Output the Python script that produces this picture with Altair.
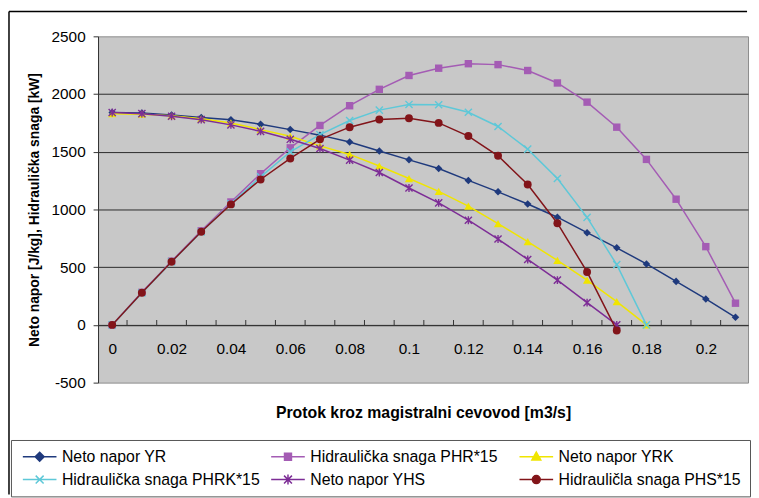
import altair as alt
import pandas as pd

FONT = "Liberation Sans"

# ---- data ----
X = [0.0, 0.01, 0.02, 0.03, 0.04, 0.05, 0.06, 0.07, 0.08, 0.09, 0.10,
     0.11, 0.12, 0.13, 0.14, 0.15, 0.16, 0.17, 0.18, 0.19, 0.20, 0.21]
YR = [1840, 1835, 1818, 1796, 1778, 1738, 1692, 1644, 1584, 1506, 1430,
      1355, 1252, 1153, 1047, 933, 799, 668, 528, 377, 225, 66]
PHR = [0, 282, 552, 815, 1065, 1310, 1534, 1728, 1899, 2041, 2161,
       2224, 2263, 2255, 2204, 2096, 1930, 1713, 1434, 1089, 678, 188]
YRK = [1830, 1825, 1812, 1786, 1750, 1692, 1634, 1551, 1477, 1377, 1268,
       1157, 1029, 878, 721, 559, 388, 202, 0]
PHRK = [0, 276, 546, 805, 1050, 1283, 1500, 1648, 1771, 1861, 1910,
        1907, 1842, 1719, 1523, 1268, 932, 522, 0]
YHS = [1840, 1830, 1808, 1778, 1733, 1677, 1608, 1528, 1428, 1320, 1186,
       1057, 907, 744, 567, 388, 193, 0]
PHS = [0, 279, 547, 807, 1044, 1260, 1442, 1608, 1713, 1779, 1790,
       1750, 1636, 1465, 1217, 881, 459, -49]

SERIES = ["Neto napor YR", "Hidraulička snaga PHR*15", "Neto napor YRK",
          "Hidraulička snaga PHRK*15", "Neto napor YHS", "Hidrauličla snaga PHS*15"]
VALUES = [YR, PHR, YRK, PHRK, YHS, PHS]
COLORS = ["#1F3A7D", "#A45CB4", "#F0E500", "#5EC8D8", "#7D2D96", "#821419"]

X_LABELS = [0, 0.02, 0.04, 0.06, 0.08, 0.1, 0.12, 0.14, 0.16, 0.18, 0.2]
X_TICKS = [0.005, 0.015, 0.025, 0.035, 0.045, 0.055, 0.065, 0.075, 0.085, 0.095, 0.105,
           0.115, 0.125, 0.135, 0.145, 0.155, 0.165, 0.175, 0.185, 0.195, 0.205]
Y_TICKS = [-500, 0, 500, 1000, 1500, 2000, 2500]

X_PATH = "M-1,-1L1,1M-1,1L1,-1"
AST_PATH = "M-1,-1L1,1M-1,1L1,-1M0,-1.1L0,1.1"
MARKERS = [
    dict(shape="diamond", filled=True, size=58),
    dict(shape="square", filled=True, size=56),
    dict(shape="triangle-up", filled=True, size=70),
    dict(shape=X_PATH, filled=False, size=52),
    dict(shape=AST_PATH, filled=False, size=52),
    dict(shape="circle", filled=True, size=64),
]

LINE = "M-3.4,0L3.4,0"
LEG_PATHS = [
    LINE + "M0,-0.9L0.9,0L0,0.9L-0.9,0Z",
    LINE + "M-0.7,-0.7L0.7,-0.7L0.7,0.7L-0.7,0.7Z",
    LINE + "M0,-0.95L0.9,0.65L-0.9,0.65Z",
    LINE + "M-0.8,-0.8L0.8,0.8M-0.8,0.8L0.8,-0.8",
    LINE + "M-0.8,-0.8L0.8,0.8M-0.8,0.8L0.8,-0.8M0,-1L0,1",
    LINE + "M0.8,0A0.8,0.8,0,1,1,-0.8,0A0.8,0.8,0,1,1,0.8,0Z",
]

W, H = 657, 350

xs = alt.Scale(domain=[-0.00477, 0.21423], nice=False, zero=False)
ys = alt.Scale(domain=[-500, 2500], nice=False, zero=False)

x_axis = alt.Axis(
    values=X_LABELS, labelExpr="'' + datum.value", ticks=False, tickSize=0,
    grid=False, domain=True, domainColor="#333333", domainWidth=1,
    labelFont=FONT, labelFontSize=15.5, labelColor="black", labelPadding=17,
    labelFlush=False, labelOverlap=False, offset=-58.33,
    title="Protok kroz magistralni cevovod [m3/s]", titleFont=FONT,
    titleFontSize=16, titleFontWeight="bold", titleColor="black",
    titleY=93.5, titleBaseline="alphabetic",
)
y_axis = alt.Axis(
    values=Y_TICKS, labelExpr="'' + datum.value",
    labelFont=FONT, labelFontSize=15.5, labelColor="black", labelPadding=8,
    tickSize=5, tickColor="#333333", domainColor="#333333",
    grid=True, gridColor="#2a2a2a", gridWidth=1,
    gridOpacity={"condition": {"test": "datum.value == -500 || datum.value == 2500", "value": 0}, "value": 1},
    title="Neto napor [J/kg], Hidraulička snaga [kW]", titleFont=FONT,
    titleFontSize=14, titleFontWeight="bold", titleColor="black",
    titleAngle=270, titleX=-57, titleY=H / 2, titleBaseline="bottom", titleAlign="center",
)

def enc(chart):
    return chart.encode(
        x=alt.X("x:Q", scale=xs, axis=x_axis),
        y=alt.Y("y:Q", scale=ys, axis=y_axis),
    )

layers = []
# small inside ticks on the category axis (between categories)
tick_df = pd.DataFrame({"x": X_TICKS, "y": [0] * len(X_TICKS)})
layers.append(enc(alt.Chart(tick_df).mark_tick(orient="vertical", size=5, thickness=1,
                                                color="#333333", yOffset=-2.5, opacity=1)))

for name, vals, col, mk in zip(SERIES, VALUES, COLORS, MARKERS):
    df = pd.DataFrame({"x": X[:len(vals)], "y": vals})
    base = alt.Chart(df)
    layers.append(enc(base.mark_line(color=col, strokeWidth=1.5)))
    layers.append(enc(base.mark_point(shape=mk["shape"], filled=mk["filled"], size=mk["size"],
                                      color=col, opacity=1, strokeWidth=1.4)))

leg = alt.Legend(
    title=None, orient="none", legendX=-88, legendY=408, columns=3, direction="horizontal",
    gridAlign="all", columnPadding=8, rowPadding=7, padding=9, strokeColor="#555555",
    labelFont=FONT, labelFontSize=16, labelColor="black", labelLimit=400,
    symbolSize=100, symbolStrokeWidth=1.5, symbolOffset=12, labelOffset=14.5,
)
leg_df = pd.DataFrame({"series": SERIES, "x": [0.0] * 6, "y": [0] * 6})
legend_layer = enc(alt.Chart(leg_df).mark_point(filled=True, size=100, strokeWidth=1.5, opacity=1)).encode(
    fill=alt.Fill("series:N", scale=alt.Scale(domain=SERIES, range=COLORS), legend=leg),
    stroke=alt.Stroke("series:N", scale=alt.Scale(domain=SERIES, range=COLORS), legend=leg),
    shape=alt.Shape("series:N", scale=alt.Scale(domain=SERIES, range=LEG_PATHS), legend=leg),
).transform_filter("false")
layers.append(legend_layer)

# outer chart frame (decorative)
one = pd.DataFrame({"a": [0]})
layers.append(alt.Chart(one).mark_rule(color="black", strokeWidth=1.5).encode(
    x=alt.value(-90), y=alt.value(-25), y2=alt.value(463)))
layers.append(alt.Chart(one).mark_rule(color="black", strokeWidth=1.5).encode(
    x=alt.value(-90), x2=alt.value(656), y=alt.value(-25)))

chart = alt.layer(*layers).properties(width=W, height=H, padding=0, background="white").configure_view(
    fill="#C8C8C8", stroke="#8C8C8C", strokeWidth=1
)

chart.save("out.html", embed_options={"renderer": "svg", "actions": False})
